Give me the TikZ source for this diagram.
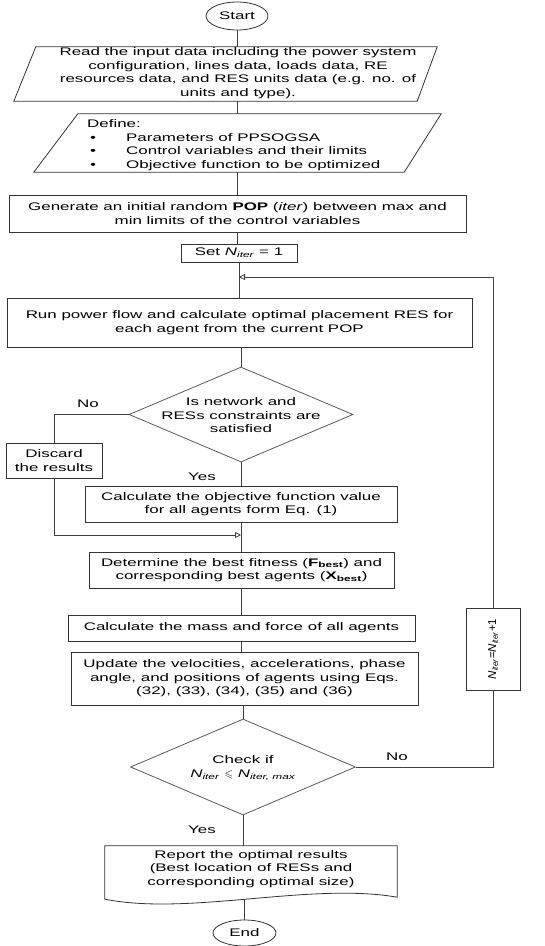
\documentclass[tikz,border=0pt]{standalone}
\usepackage{fontspec}
\usepackage{amssymb}
\setmainfont[FakeStretch=1.54]{Liberation Sans}
\newfontfamily\plainfont{Liberation Sans}
\usetikzlibrary{shapes.geometric,arrows.meta,calc}
\begin{document}
\begin{tikzpicture}[x=1pt,y=-1pt,
  every node/.style={font=\fontsize{11}{13.5}\selectfont, inner sep=0pt},
  box/.style={draw=black!80, line width=0.8pt, rectangle, align=center},
  inv/.style={rectangle},
  shp/.style={draw=black!80, line width=0.8pt},
  ell/.style={draw=black!80, line width=0.8pt, ellipse},
  dia/.style={draw=black!65, line width=0.8pt, diamond},
  conn/.style={draw=black!75, line width=0.8pt},
  openarrow/.style={-{Triangle[open,length=6pt,width=6pt]}}
]
\useasboundingbox (0,0) rectangle (545,946);

% start
\node[ell, minimum width=62pt, minimum height=28pt] (start) at (237,16) {Start};

% read (parallelogram)
\node[inv, minimum width=423pt, minimum height=54pt] (read) at (225.5,74) {};
\draw[shp] ($(read.north west)+(22,0)$) -- (read.north east) -- ($(read.south east)+(-20,0)$) -- (read.south west) -- cycle;
\node[align=center] (readtxt) at (238,73) {Read the input data including the power system\\configuration, lines data, loads data, RE\\resources data, and RES units data (e.g. no. of\\units and type).};

% define (parallelogram)
\node[inv, minimum width=407pt, minimum height=58pt] (define) at (237.5,143) {};
\draw[shp] ($(define.north west)+(44,0)$) -- (define.north east) -- ($(define.south east)+(-37,0)$) -- (define.south west) -- cycle;
\node[align=left, anchor=west] (definetxt) at (87,145) {Define:\\\hspace*{3pt}\makebox[36pt][l]{\textbullet}Parameters of PPSOGSA\\\hspace*{3pt}\makebox[36pt][l]{\textbullet}Control variables and their limits\\\hspace*{3pt}\makebox[36pt][l]{\textbullet}Objective function to be optimized};

% generate
\node[box, minimum width=457pt, minimum height=37pt] (gen) at (237.5,213.5) {Generate an initial random \textbf{POP} (\textit{iter}) between max and\\min limits of the control variables};

% set
\node[box, minimum width=116pt, minimum height=18pt] (set) at (239,253) {Set \textit{N}\textsubscript{\textit{iter}} = 1};

\coordinate (loop) at (239,277);

% run
\node[box, minimum width=465pt, minimum height=49pt] (run) at (239.5,322.5) {Run power flow and calculate optimal placement RES for\\each agent from the current POP};

% decision 1
\node[dia, minimum width=224pt, minimum height=95pt] (dia1) at (241,414.5) {};
\node[align=center] (dia1txt) at (241,415.5) {Is network and\\RESs constraints are\\satisfied};

% discard
\node[box, minimum width=96pt, minimum height=35pt] (discard) at (54,460.5) {Discard\\the results};

% calc objective
\node[box, minimum width=312pt, minimum height=36pt] (calc) at (241,504) {Calculate the objective function value\\for all agents form Eq. (1)};

\coordinate (merge) at (241,535);

% determine
\node[box, minimum width=305pt, minimum height=36pt] (det) at (241.5,570) {Determine the best fitness (\textbf{F\textsubscript{best}}) and\\corresponding best agents (\textbf{X\textsubscript{best}})};

% mass
\node[box, minimum width=347pt, minimum height=26pt] (mass) at (241.5,628) {Calculate the mass and force of all agents};

% update
\node[box, minimum width=347pt, minimum height=53pt] (upd) at (244.5,678.5) {Update the velocities, accelerations, phase\\angle, and positions of agents using Eqs.\\(32), (33), (34), (35) and (36)};

% niter
\node[box, minimum width=54pt, minimum height=82pt] (niter) at (493,649) {};
\node[rotate=90, font=\plainfont\fontsize{11.5}{13}\selectfont] (nitertxt) at (493,649) {\textit{N}\textsubscript{\textit{iter}}=\textit{N}\textsubscript{\textit{iter}}+1};

% decision 2
\node[dia, minimum width=225pt, minimum height=96pt] (dia2) at (243,767) {};
\node[align=center] (dia2txt) at (243,768) {Check if\\\textit{N}\textsubscript{\textit{iter}} $\leqslant$ \textit{N}\textsubscript{\textit{iter, max}}};

% report (document)
\node[inv, minimum width=292pt, minimum height=53pt] (report) at (251,872.5) {};
\draw[shp] (report.south west) -- (report.north west) -- (report.north east) -- ($(report.south east)+(0,-2)$) .. controls (310,882) and (190,916) .. (report.south west) -- cycle;
\node[align=center] (reporttxt) at (251,869) {Report the optimal results\\(Best location of RESs and\\corresponding optimal size)};

% end
\node[ell, minimum width=63pt, minimum height=26pt] (end) at (244.5,933) {End};

% labels
\node (no1) at (88,404) {No};
\node (yes1) at (202,477) {Yes};
\node (no2) at (397,757) {No};
\node (yes2) at (202,830) {Yes};

% connectors
\draw[conn] (start.south) -- (start.south |- read.north);
\draw[conn] (start.south |- read.south) -- (start.south |- define.north);
\draw[conn] (gen.north |- define.south) -- (gen.north);
\draw[conn] (gen.south) -- (gen.south |- set.north);
\draw[conn] (set.south) -- (set.south |- run.north);
\draw[conn] (dia1.north |- run.south) -- (dia1.north);
\draw[conn] (dia1.west) -| (discard.north);
\draw[conn] (dia1.south) -- (calc.north);
\draw[conn] (calc.south) -- (calc.south |- det.north);
\draw[conn, openarrow] (discard.south) |- (merge);
\draw[conn] (det.south) -- (det.south |- mass.north);
\draw[conn] (mass.south) -- (mass.south |- upd.north);
\draw[conn] (dia2.north |- upd.south) -- (dia2.north);
\draw[conn] (dia2.east) -| (niter.south);
\draw[conn, openarrow] (niter.north) |- (loop);
\draw[conn] (dia2.south) -- (dia2.south |- report.north);
\draw[conn] (end.north) -- (end.north |- report.south);
\end{tikzpicture}
\end{document}
